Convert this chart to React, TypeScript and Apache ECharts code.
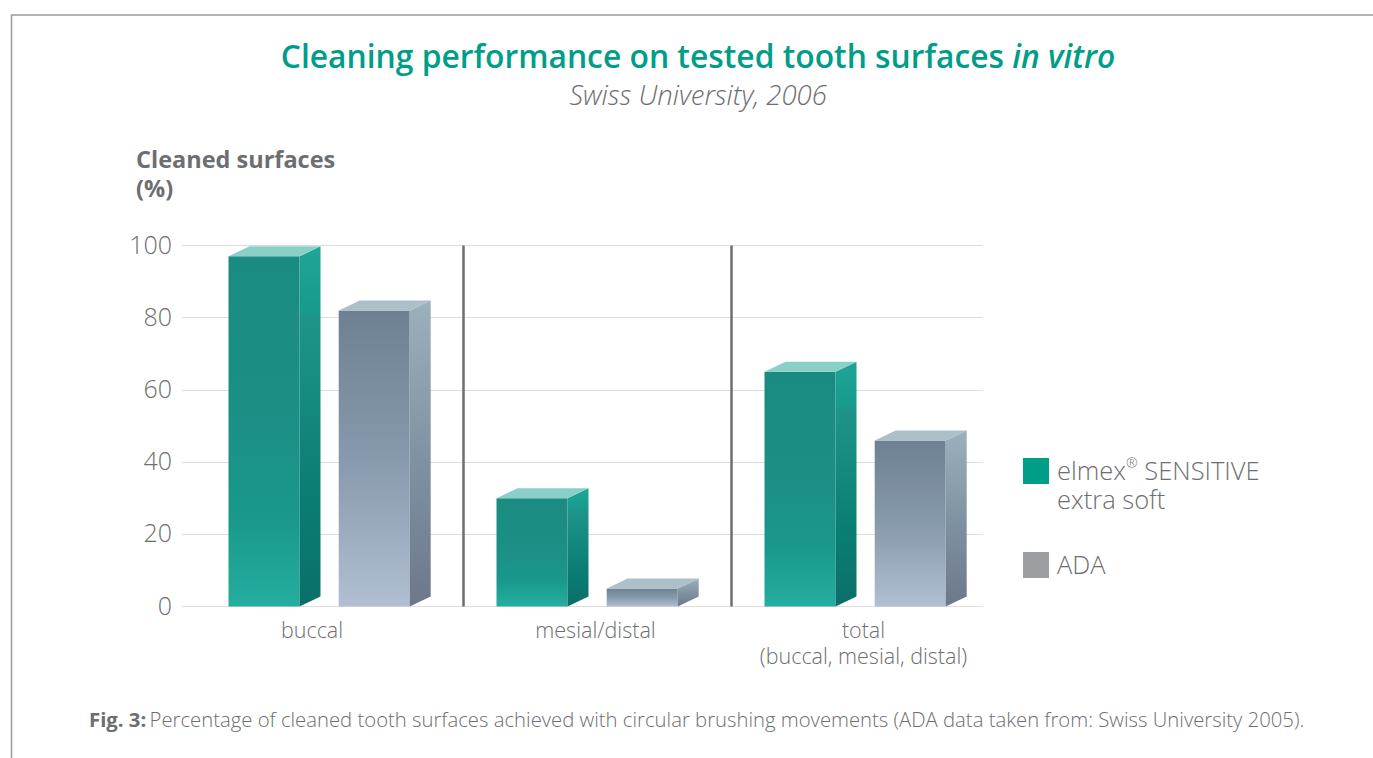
import React, { useEffect, useRef } from "react";
import * as echarts from "echarts";

const categories = ["buccal", "mesial/distal", "total\n(buccal, mesial, distal)"];
const elmexValues = [97, 30, 65];
const adaValues = [82, 5, 46];
const yTicks = [0, 20, 40, 60, 80, 100];
const dividers = [0, 1];

const FONT = "'Open Sans', Lato, sans-serif";
const GREY = "#6d6e71";
const TEAL = "#009d88";

const vertical = (stops: [number, string][]) => ({
  type: "linear", x: 0, y: 0, x2: 0, y2: 1,
  colorStops: stops.map(([offset, color]) => ({ offset, color })),
});

const palettes = [
  {
    front: vertical([[0, "#1a8b80"], [0.5, "#1c9086"], [0.75, "#19988b"], [1, "#25ae9f"]]),
    side: vertical([[0, "#1fa596"], [0.18, "#179a8c"], [0.2, "#1e9488"], [0.7, "#0a7d73"], [1, "#0b6f69"]]),
    top: "#8bcfc9",
  },
  {
    front: vertical([[0, "#6e8192"], [0.5, "#8799ac"], [1, "#b2bfd3"]]),
    side: vertical([[0, "#9bb1bc"], [0.5, "#8093a2"], [1, "#6d788a"]]),
    top: "#adbfc8",
  },
];

const BAR_W = 71;
const DEPTH_X = 21;
const DEPTH_Y = 10;
const BAR_STARTS = [-101, 9.2];

const bar3d = (seriesIdx: number) => (_p: any, api: any) => {
  const cat = api.value(0);
  const val = api.value(1);
  const [cx, yTop] = api.coord([cat, val]);
  const [, yBase] = api.coord([cat, 0]);
  const x0 = cx + BAR_STARTS[seriesIdx];
  const x1 = x0 + BAR_W;
  const p = palettes[seriesIdx];
  return {
    type: "group",
    children: [
      { type: "polygon", shape: { points: [[x0, yTop], [x1, yTop], [x1, yBase], [x0, yBase]] }, style: { fill: p.front } },
      { type: "polygon", shape: { points: [[x1, yTop], [x1 + DEPTH_X, yTop - DEPTH_Y], [x1 + DEPTH_X, yBase - DEPTH_Y], [x1, yBase]] }, style: { fill: p.side } },
      { type: "polygon", shape: { points: [[x0, yTop], [x0 + DEPTH_X, yTop - DEPTH_Y], [x1 + DEPTH_X, yTop - DEPTH_Y], [x1, yTop]] }, style: { fill: p.top } },
    ],
  };
};

const dividerItem = (_p: any, api: any) => {
  const cat = api.value(0);
  const [cx, yTop] = api.coord([cat, 100]);
  const [, yBase] = api.coord([cat, 0]);
  const x = cx + api.size([1, 0])[0] / 2;
  return {
    type: "line",
    shape: { x1: x, y1: yTop, x2: x, y2: yBase },
    style: { stroke: GREY, lineWidth: 2.5 },
  };
};

const labelStyle = { fontFamily: FONT, fontSize: 21.5, fontWeight: 300, color: GREY, lineHeight: 26 };

export default function App() {
  const ref = useRef<HTMLDivElement>(null);
  useEffect(() => {
    document.body.style.margin = "0";
    const chart = echarts.init(ref.current!, undefined, { renderer: "svg" });
    chart.setOption({
      animation: false,
      backgroundColor: "#ffffff",
      title: {
        left: 693,
        textAlign: "center",
        top: 34,
        text: "{a|Cleaning performance on tested tooth surfaces }{b|in vitro}",
        textStyle: {
          rich: {
            a: { fontFamily: FONT, fontSize: 31.8, fontWeight: 600, color: TEAL },
            b: { fontFamily: FONT, fontSize: 31.8, fontWeight: 600, fontStyle: "italic", color: TEAL },
          },
        },
        subtext: "Swiss University, 2006",
        subtextStyle: { fontFamily: FONT, fontSize: 27.5, fontStyle: "italic", fontWeight: 300, color: GREY },
        itemGap: 10,
      },
      grid: [
        { left: 182, width: 801, top: 245.5, height: 361, containLabel: false },
        { left: 195.5, width: 804, top: 245.5, height: 361, containLabel: false },
      ],
      xAxis: [
        { gridIndex: 0, type: "value", min: 0, max: 1, show: false },
        {
          gridIndex: 1,
          type: "category",
          data: categories,
          axisLine: { show: false },
          axisTick: { show: false },
          axisLabel: {
            interval: 0,
            margin: 10,
            formatter: (v: string) => {
              const tag = v === categories[0] ? "s" : "n";
              return v.split("\n").map((l) => `{${tag}|${l}}`).join("\n");
            },
            rich: {
              s: { ...labelStyle, padding: [0, 35, 0, 0] },
              n: { ...labelStyle, padding: [0, 4, 0, 0] },
            },
          },
        },
      ],
      yAxis: [
        {
          gridIndex: 0,
          type: "value",
          min: yTicks[0],
          max: yTicks[yTicks.length - 1],
          interval: 20,
          axisLine: { show: false },
          axisTick: { show: false },
          axisLabel: {
            margin: 10,
            formatter: (v: number) => `{t|${v}}`,
            rich: { t: { fontFamily: FONT, fontSize: 25, fontWeight: 300, color: GREY, lineHeight: 30, padding: [0, 0, 4, 0] } },
          },
          splitLine: { lineStyle: { color: "#dcdddd", width: 1 } },
        },
        { gridIndex: 1, type: "value", min: 0, max: 100, show: false },
      ],
      series: [
        {
          type: "custom", name: "dividers", xAxisIndex: 1, yAxisIndex: 1, silent: true,
          renderItem: dividerItem, data: dividers.map((d) => [d]), encode: { x: 0 },
        },
        {
          type: "custom", name: "elmex® SENSITIVE extra soft", xAxisIndex: 1, yAxisIndex: 1,
          renderItem: bar3d(0), data: elmexValues.map((v, i) => [i, v]), encode: { x: 0, y: 1 },
        },
        {
          type: "custom", name: "ADA", xAxisIndex: 1, yAxisIndex: 1,
          renderItem: bar3d(1), data: adaValues.map((v, i) => [i, v]), encode: { x: 0, y: 1 },
        },
      ],
      graphic: [
        { type: "polyline", shape: { points: [[11.5, 758], [11.5, 15], [1373, 15]] }, style: { stroke: "#9a9a9a", lineWidth: 1.5, fill: "none" } },
        { type: "text", x: 136, y: 144, style: { text: "Cleaned surfaces\n(%)", fontFamily: FONT, fontSize: 23.5, fontWeight: 700, fill: GREY, lineHeight: 29 } },
        { type: "rect", shape: { x: 1023, y: 458, width: 26, height: 26 }, style: { fill: TEAL } },
        { type: "text", x: 1057, y: 455, style: {
          text: "elmex{sup|®} SENSITIVE\nextra soft",
          fontFamily: FONT, fontSize: 25.5, fontWeight: 300, fill: GREY, lineHeight: 29,
          rich: { sup: { fontFamily: FONT, fontSize: 14, fontWeight: 300, fill: GREY, verticalAlign: "top", lineHeight: 29 } },
        } },
        { type: "rect", shape: { x: 1023, y: 552, width: 26, height: 26 }, style: { fill: "#9d9ea1" } },
        { type: "text", x: 1057, y: 549, style: { text: "ADA", fontFamily: FONT, fontSize: 25.5, fontWeight: 300, fill: GREY, lineHeight: 29 } },
        { type: "text", x: 89, y: 709, style: {
          text: "{b|Fig. 3:} {r|Percentage of cleaned tooth surfaces achieved with circular brushing movements (ADA data taken from: Swiss University 2005).}",
          rich: {
            b: { fontFamily: FONT, fontSize: 20.3, fontWeight: 700, fill: GREY },
            r: { fontFamily: FONT, fontSize: 20.3, fontWeight: 300, fill: GREY },
          },
        } },
      ],
    });
    return () => chart.dispose();
  }, []);
  return <div ref={ref} style={{ position: "absolute", left: 0, top: 0, width: 1373, height: 758 }} />;
}
